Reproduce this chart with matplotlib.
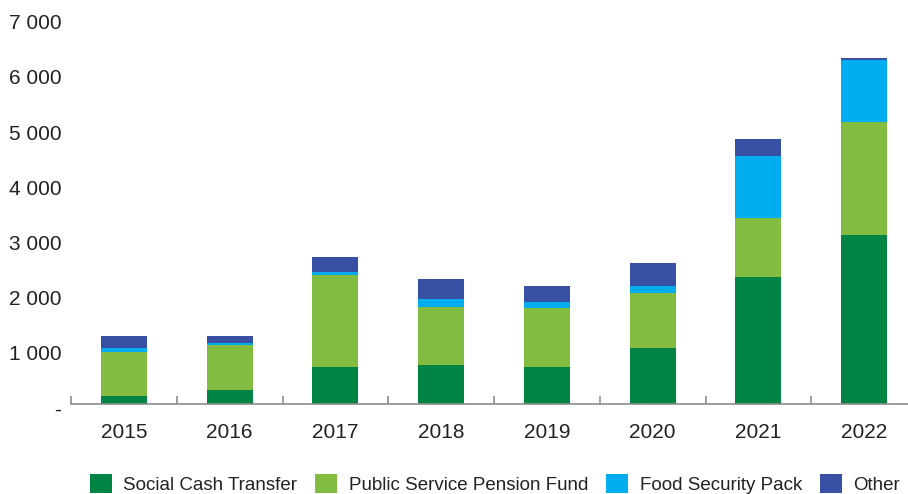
import numpy as np
import matplotlib
matplotlib.use('Agg')
import matplotlib.pyplot as plt
from matplotlib.transforms import ScaledTranslation

plt.rcParams['font.family'] = ['Liberation Sans', 'DejaVu Sans']

years = ['2015', '2016', '2017', '2018', '2019', '2020', '2021', '2022']
social_cash = [145, 254, 671, 707, 671, 1015, 2302, 3063]
pension_fund = [804, 815, 1667, 1051, 1069, 997, 1069, 2048]
food_pack = [66, 43, 55, 145, 109, 127, 1124, 1124]
other = [218, 121, 271, 363, 290, 417, 308, 37]

series = [
    ('Social Cash Transfer', social_cash, '#008444'),
    ('Public Service Pension Fund', pension_fund, '#82bc41'),
    ('Food Security Pack', food_pack, '#00aeef'),
    ('Other', other, '#3750a3'),
]

fig = plt.figure(figsize=(9.08, 4.94), dpi=100)
ax = fig.add_axes([71 / 908, 90 / 494, 846 / 908, 386.2 / 494])

x = np.arange(len(years))
bottom = np.zeros(len(years))
for name, vals, col in series:
    ax.bar(x, vals, width=0.435, bottom=bottom, color=col, label=name, zorder=2)
    bottom += np.array(vals)

ax.set_xlim(-0.5, len(years) - 0.5)
ax.set_ylim(0, 7000)

for s in ['left', 'top', 'right']:
    ax.spines[s].set_visible(False)
ax.spines['bottom'].set_color('#8c8c8c')
ax.spines['bottom'].set_linewidth(1.2)
ax.spines['bottom'].set_zorder(3)

ax.set_xticks(x)
ax.set_xticklabels(years)
ax.set_xticks(np.arange(-0.5, len(years), 1.0), minor=True)
ax.tick_params(axis='x', which='major', length=0, pad=14, labelsize=15, labelcolor='#222222')
ax.tick_params(axis='x', which='minor', direction='in', length=6, width=1.2, color='#8c8c8c')

yt = np.arange(0, 7001, 1000)
ax.set_yticks(yt)
ax.set_yticklabels(['-'] + ['{:,}'.format(v).replace(',', ' ') for v in yt[1:]])
ax.tick_params(axis='y', length=0, pad=7, labelsize=15, labelcolor='#222222')
for lab in ax.get_yticklabels():
    lab.set_transform(lab.get_transform() + ScaledTranslation(0, -4 / 100, fig.dpi_scale_trans))

fig.legend(loc='center', bbox_to_anchor=(495 / 908, 10 / 494), ncol=4, frameon=False,
           fontsize=13.5, handlelength=1.17, handleheight=1.12, handletextpad=0.62,
           columnspacing=0.95, borderaxespad=0, labelcolor='#222222')

fig.savefig('out.png', dpi=100)
